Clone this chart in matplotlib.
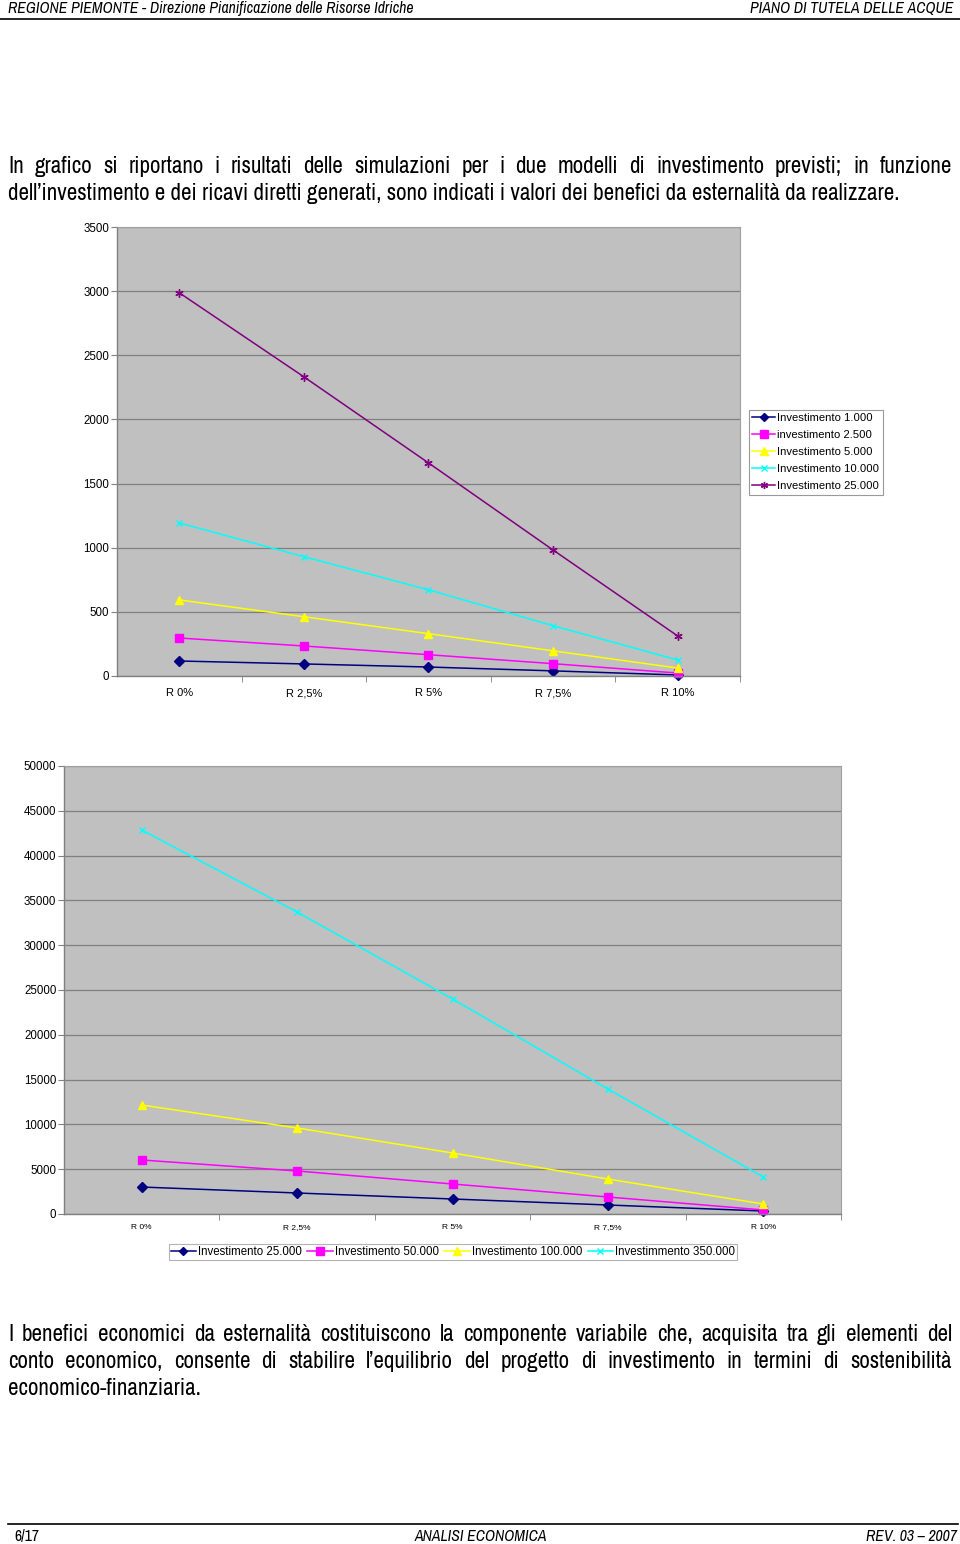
import matplotlib
matplotlib.use("Agg")
import matplotlib.pyplot as plt
from matplotlib.lines import Line2D

W, H = 960, 1544
NARROW = ['Archivo Narrow', 'PT Sans Narrow', 'DejaVu Sans']
ARIAL = ['Liberation Sans', 'DejaVu Sans']

# ---------------- data ----------------
categories = ["R 0%", "R 2,5%", "R 5%", "R 7,5%", "R 10%"]

labels1 = ["Investimento 1.000", "investimento 2.500", "Investimento 5.000",
           "Investimento 10.000", "Investimento 25.000"]
inv_1000 = [117, 94, 70, 40, 8]
inv_2500 = [296, 234, 166, 96, 23]
inv_5000 = [593, 462, 330, 196, 62]
inv_10000 = [1193, 930, 672, 392, 125]
inv_25000 = [2987, 2332, 1661, 982, 312]
yticks1 = [0, 500, 1000, 1500, 2000, 2500, 3000, 3500]

labels2 = ["Investimento 25.000", "Investimento 50.000", "Investimento 100.000",
           "Investimmento 350.000"]
inv2_25000 = [3010, 2345, 1675, 1005, 335]
inv2_50000 = [6030, 4800, 3350, 1900, 450]
inv2_100000 = [12160, 9600, 6810, 3900, 1120]
inv2_350000 = [42860, 33700, 24000, 13950, 4130]
yticks2 = [0, 5000, 10000, 15000, 20000, 25000, 30000, 35000, 40000, 45000, 50000]

colors = ["#000080", "#FF00FF", "#FFFF00", "#00FFFF", "#800080"]
markers = ["D", "s", "^", "x", (6, 2, 0)]

para1 = ["In grafico si riportano i risultati delle simulazioni per i due modelli di investimento previsti; in funzione",
         "dell\u2019investimento e dei ricavi diretti generati, sono indicati i valori dei benefici da esternalit\u00e0 da realizzare."]
para2 = ["I benefici economici da esternalit\u00e0 costituiscono la componente variabile che, acquisita tra gli elementi del",
         "conto economico, consente di stabilire l\u2019equilibrio del progetto di investimento in termini di sostenibilit\u00e0",
         "economico-finanziaria."]

header_left = "REGIONE PIEMONTE - Direzione Pianificazione delle Risorse Idriche"
header_right = "PIANO DI TUTELA DELLE ACQUE"
footer_left = "6/17"
footer_mid = "ANALISI ECONOMICA"
footer_right = "REV. 03 \u2013 2007"

fig = plt.figure(figsize=(W / 100, H / 100), dpi=100)
fig.patch.set_facecolor("white")
renderer = fig.canvas.get_renderer()


def fx(x):
    return x / W


def fy(y):
    return 1 - y / H


def width_of(s, size, style="normal"):
    t = fig.text(0, 0, s, fontsize=size, family=NARROW, style=style)
    w = t.get_window_extent(renderer).width
    t.remove()
    return w


def fit_size(s, target, style="normal"):
    return 12 * target / width_of(s, 12, style)


def line_text(s, x0, ybase, size, x1=None, style="normal"):
    if x1 is None:
        fig.text(fx(x0), fy(ybase), s, fontsize=size, family=NARROW, style=style,
                 va="baseline", ha="left")
        return
    words = s.split(" ")
    ws = [width_of(w, size, style) for w in words]
    gap = (x1 - x0 - sum(ws)) / (len(words) - 1)
    xx = x0
    for w, wd in zip(words, ws):
        fig.text(fx(xx), fy(ybase), w, fontsize=size, family=NARROW, style=style,
                 va="baseline", ha="left")
        xx += wd + gap


body_size = fit_size(para1[1], 891)
hdr = fit_size(header_left, 405, "italic")

# header / footer
line_text(header_left, 8, 13, hdr, style="italic")
fig.text(fx(953), fy(13), header_right, fontsize=hdr, family=NARROW,
         style="italic", va="baseline", ha="right")
fig.add_artist(Line2D([0, 1], [fy(18.5), fy(18.5)], color="black", lw=1.2))
fig.add_artist(Line2D([fx(8), fx(958)], [fy(1524), fy(1524)], color="black", lw=1.2))
fig.text(fx(14), fy(1541), footer_left, fontsize=hdr, family=NARROW, va="baseline", ha="left")
fig.text(fx(481), fy(1541), footer_mid, fontsize=hdr, family=NARROW,
         style="italic", va="baseline", ha="center")
fig.text(fx(957), fy(1541), footer_right, fontsize=hdr, family=NARROW,
         style="italic", va="baseline", ha="right")

# body paragraphs (baselines)
line_text(para1[0], 8, 173, body_size, x1=952)
line_text(para1[1], 8, 200, body_size)
line_text(para2[0], 8, 1341, body_size, x1=952)
line_text(para2[1], 8, 1368, body_size, x1=952)
line_text(para2[2], 8, 1395, body_size)


def style_axes(ax, yticks, ymax, xsize, ysize, xpad):
    ax.set_facecolor("#C0C0C0")
    ax.set_xlim(-0.5, 4.5)
    ax.set_ylim(0, ymax)
    ax.set_yticks(yticks)
    ax.set_yticklabels([str(v) for v in yticks], fontsize=ysize, family=ARIAL)
    ax.set_xticks(range(len(categories)))
    ax.set_xticklabels(categories, fontsize=xsize, family=ARIAL, va="baseline")
    ax.set_xticks([0.5, 1.5, 2.5, 3.5, 4.5], minor=True)
    ax.tick_params(axis="x", which="major", length=0, pad=xpad)
    ax.tick_params(axis="x", which="minor", length=4, color="#808080", direction="out")
    ax.tick_params(axis="y", length=4, color="#808080", direction="out", pad=1.5)
    ax.yaxis.grid(True, color="#808080", lw=0.9)
    ax.set_axisbelow(True)
    for side in ["top", "right"]:
        ax.spines[side].set_color("#A0A0A0")
        ax.spines[side].set_linewidth(0.8)
    for side in ["left", "bottom"]:
        ax.spines[side].set_color("#808080")
        ax.spines[side].set_linewidth(1.0)


x = list(range(len(categories)))

# chart 1
ax1 = fig.add_axes([fx(117), fy(676), (740 - 117) / W, (676 - 227) / H])
series1 = [inv_1000, inv_2500, inv_5000, inv_10000, inv_25000]
for vals, c, m, lab in zip(series1, colors, markers, labels1):
    ms = 5 if m in ("D", "x") else 6
    ax1.plot(x, vals, color=c, marker=m, lw=1.1, ms=ms, mew=1.0, label=lab, clip_on=False)
style_axes(ax1, yticks1, 3500, 8, 8.3, 14.5)
leg1 = ax1.legend(loc="upper left", bbox_to_anchor=(fx(749), fy(410)),
                  bbox_transform=fig.transFigure, prop={"family": ARIAL, "size": 8.1},
                  frameon=True, fancybox=False, edgecolor="#808080", handlelength=2.0,
                  handletextpad=0.2, labelspacing=0.62, borderpad=0.3, borderaxespad=0,
                  markerscale=0.85)
leg1.get_frame().set_linewidth(0.8)

# chart 2
ax2 = fig.add_axes([fx(64), fy(1214), (841 - 64) / W, (1214 - 766) / H])
series2 = [inv2_25000, inv2_50000, inv2_100000, inv2_350000]
for vals, c, m, lab in zip(series2, colors[:4], markers[:4], labels2):
    ms = 5 if m in ("D", "x") else 6
    ax2.plot(x, vals, color=c, marker=m, lw=1.1, ms=ms, mew=1.0, label=lab, clip_on=False)
style_axes(ax2, yticks2, 50000, 6, 8.3, 11)
leg2 = ax2.legend(loc="center", bbox_to_anchor=(fx(453), fy(1252)),
                  bbox_transform=fig.transFigure, prop={"family": ARIAL, "size": 8.3},
                  ncol=4, frameon=True, fancybox=False, edgecolor="#A0A0A0",
                  handlelength=2.2, handletextpad=0.2, columnspacing=0.45,
                  borderpad=0.15, borderaxespad=0, markerscale=0.85)
leg2.get_frame().set_linewidth(0.8)

fig.savefig("out.png", dpi=100)
